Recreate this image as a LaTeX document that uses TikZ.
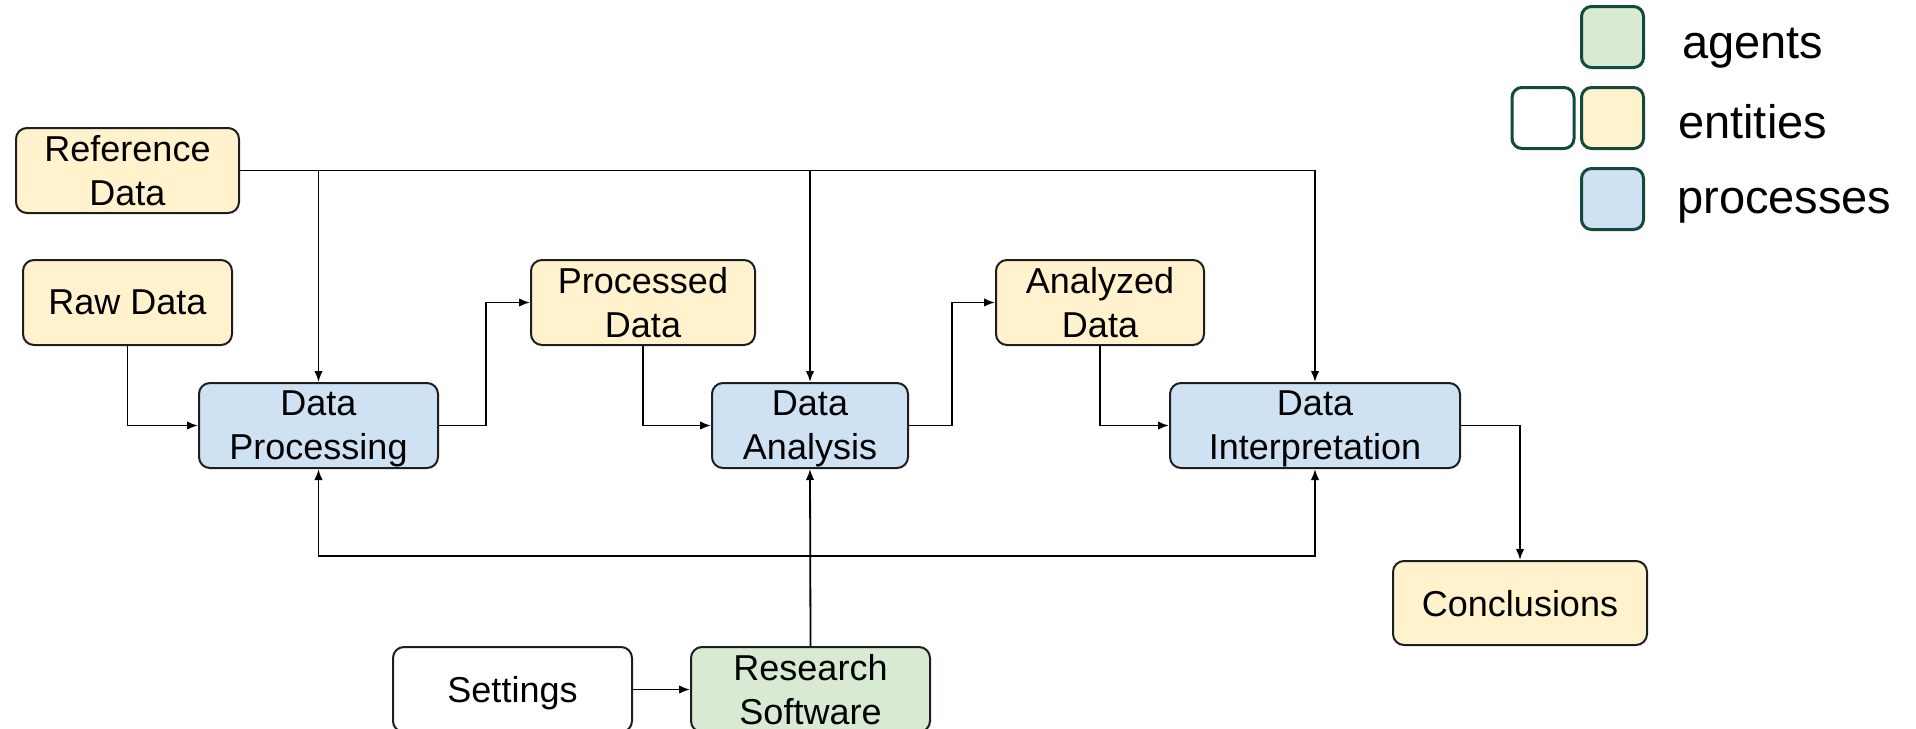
\documentclass[tikz,border=0pt]{standalone}
\usepackage{fontspec}
\setmainfont{Liberation Sans}
\usetikzlibrary{arrows.meta}
\definecolor{entfill}{HTML}{FFF2CC}
\definecolor{procfill}{HTML}{CFE2F3}
\definecolor{agentfill}{HTML}{D9EAD3}
\definecolor{keyline}{HTML}{134A3C}
\definecolor{boxline}{HTML}{1E1E1E}
\begin{document}
\begin{tikzpicture}[x=1pt,y=-1pt,
  box/.style={draw=boxline,line width=2pt,rounded corners=11pt,minimum height=85pt,
    inner sep=0pt,align=center,text depth=0pt,
    font=\fontsize{36}{44}\selectfont},
  entity/.style={box,fill=entfill},
  plain/.style={box,fill=white},
  process/.style={box,fill=procfill},
  agent/.style={box,fill=agentfill},
  keybox/.style={draw=keyline,line width=3pt,rounded corners=10pt,minimum width=62pt,minimum height=61pt,inner sep=0pt},
  keytext/.style={anchor=base west,inner sep=0pt,font=\fontsize{47}{52}\selectfont},
  arr/.style={draw=black,line width=1.8pt,-{Latex[length=11pt,width=8.5pt]}},
  link/.style={draw=black,line width=1.8pt}]
\useasboundingbox (0,0) rectangle (1916,728);
\clip (0,0) rectangle (1916,728);

% workflow boxes
\node[entity,minimum width=223pt] (ref) at (127.5,170.5) {Reference\\Data};
\node[entity,minimum width=209pt] (raw) at (127.5,302.5) {Raw Data};
\node[process,minimum width=239pt] (dp) at (318.5,425.5) {Data\\Processing};
\node[entity,minimum width=224pt] (pd) at (643,302.5) {Processed\\Data};
\node[process,minimum width=196pt] (da) at (810,425.5) {Data\\Analysis};
\node[entity,minimum width=208pt] (ad) at (1100,302.5) {Analyzed\\Data};
\node[process,minimum width=290pt] (di) at (1315,425.5) {Data\\Interpretation};
\node[entity,minimum width=254pt,minimum height=84pt] (concl) at (1520,603) {Conclusions};
\node[plain,minimum width=239pt] (set) at (512.5,689.5) {Settings};
\node[agent,minimum width=239pt] (rs) at (810.5,689.5) {Research\\Software};

% reference data feeds every process
\draw[arr] (ref.east) -| (di.north);
\draw[arr] (ref.east -| dp.north) -- (dp.north);
\draw[arr] (ref.east -| da.north) -- (da.north);

% main data flow
\draw[arr] (raw.south) |- (dp.west);
\draw[arr] (dp.east) -- ++(47,0) |- (pd.west);
\draw[arr] (pd.south) |- (da.west);
\draw[arr] (da.east) -- ++(43,0) |- (ad.west);
\draw[arr] (ad.south) |- (di.west);
\draw[arr] (di.east) -| (concl.north);

% software used by all processes
\draw[arr] (set.east) -- (rs.west);
\draw[arr] (rs.north) -- (da.south);
\coordinate (fb) at (810,556);
\draw[arr] (fb) -| (dp.south);
\draw[arr] (fb) -| (di.south);

% key
\node[keybox,fill=agentfill] (kagent) at (1612.5,37) {};
\node[keybox,fill=white] (kplain) at (1543,118) {};
\node[keybox,fill=entfill] (kentity) at (1612.5,118) {};
\node[keybox,fill=procfill] (kproc) at (1612.5,199) {};
\node[keytext] (tagent) at (1682,58) {agents};
\node[keytext] (tentity) at (1678,138) {entities};
\node[keytext] (tproc) at (1677,213) {processes};
\end{tikzpicture}
\end{document}
